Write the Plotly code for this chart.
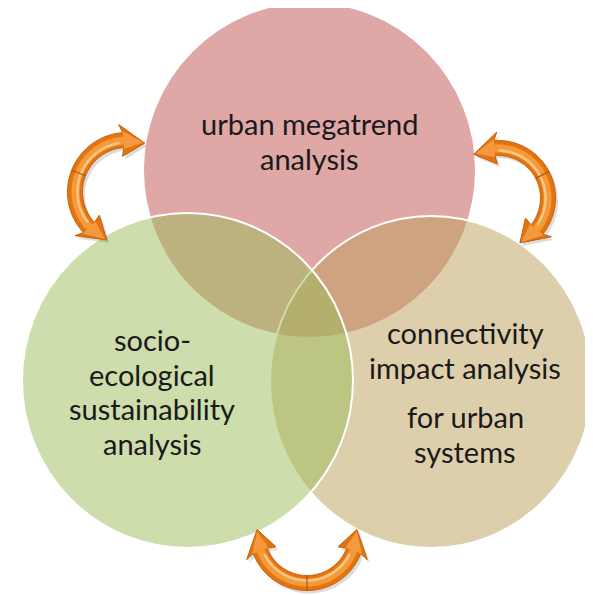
import numpy as np
import plotly.graph_objects as go

# ---- content -------------------------------------------------------------
circle_names = ["urban megatrend", "connectivity impact", "socio-ecological"]
top_label = ["urban megatrend", "analysis"]
right_label = ["connectivity", "impact analysis", "for urban", "systems"]
left_label = ["socio-", "ecological", "sustainability", "analysis"]

# ---- geometry / style constants (pixel space of the page) ----------------
W, H = 593, 595
OFF = 8  # default page body margin
# (cx, cy, rx, ry, rgb) ; drawing order: top, right, left
circles = [
    (309.5, 170.0, 166.5, 168.0, (192, 80, 77)),
    (431.0, 382.0, 161.0, 166.0, (190, 160, 90)),
    (187.5, 380.5, 165.5, 167.5, (155, 187, 89)),
]
# arrows: centre, radius, tip angle start, tip angle end (degrees, y down)
arrows = [
    (127.0, 192.0, 52.0, -72.0, -245.0),
    (498.0, 198.0, 50.0, -117.0, 62.0),
    (307.0, 533.0, 50.0, 182.0, -2.0),
]
BAND = 15.0
HEAD_HW = 16.0
HEAD_LEN = 20.0

fig = go.Figure()
fig.add_trace(go.Scatter(x=[OFF, W], y=[OFF, H], mode="markers",
                         marker=dict(opacity=0), hoverinfo="skip", showlegend=False))

shapes = []
for cx, cy, rx, ry, rgb in circles:
    shapes.append(dict(
        type="circle", xref="x", yref="y",
        x0=cx - rx, x1=cx + rx, y0=cy - ry, y1=cy + ry,
        fillcolor="rgba(%d,%d,%d,0.5)" % rgb,
        line=dict(color="white", width=2), layer="above"))


def pt(cx, cy, rr, a):
    t = np.radians(a)
    return cx + rr * np.cos(t), cy + rr * np.sin(t)


def to_path(pts, close=True):
    s = "M " + " L ".join("%.2f,%.2f" % p for p in pts)
    return s + (" Z" if close else "")


def arrow_shapes(cx, cy, r, t0, t1, dx=0.0, dy=0.0):
    d = np.sign(t1 - t0)
    hla = np.degrees(HEAD_LEN / r)
    a0, a1 = t0 + d * hla, t1 - d * hla
    ts = np.linspace(a0, a1, 80)
    c = (cx + dx, cy + dy)
    outer = [pt(*c, r + BAND / 2, t) for t in ts]
    inner = [pt(*c, r - BAND / 2, t) for t in ts[::-1]]
    pts = ([pt(*c, r, t0 - d * 2), pt(*c, r + HEAD_HW, a0 + d * 3)] + outer +
           [pt(*c, r + HEAD_HW, a1 - d * 3), pt(*c, r, t1 + d * 2),
            pt(*c, r - HEAD_HW, a1 - d * 3)] + inner +
           [pt(*c, r - HEAD_HW, a0 + d * 3)])
    return pts, ts


for cx, cy, r, t0, t1 in arrows:
    sp, _ = arrow_shapes(cx, cy, r, t0, t1, 2.5, 3.0)
    shapes.append(dict(type="path", xref="x", yref="y", path=to_path(sp),
                       fillcolor="rgba(60,60,60,0.18)", line=dict(width=0),
                       layer="above"))
    ap, ts = arrow_shapes(cx, cy, r, t0, t1)
    shapes.append(dict(type="path", xref="x", yref="y", path=to_path(ap),
                       fillcolor="#E3740F", line=dict(color="#C4600A", width=1),
                       layer="above"))
    mid = [pt(cx, cy, r - 0.5, t) for t in ts]
    shapes.append(dict(type="path", xref="x", yref="y", path=to_path(mid, False),
                       fillcolor="rgba(0,0,0,0)",
                       line=dict(color="#F59A3A", width=8), layer="above"))
    hi = [pt(cx, cy, r - 2.5, t) for t in ts[3:-3]]
    shapes.append(dict(type="path", xref="x", yref="y", path=to_path(hi, False),
                       fillcolor="rgba(0,0,0,0)",
                       line=dict(color="#FBC585", width=2.5), layer="above"))
    d = np.sign(t1 - t0)
    hla = np.degrees(HEAD_LEN / r)
    for tip, base in ((t0, t0 + d * hla), (t1, t1 - d * hla)):
        hp = [pt(cx, cy, r, tip), pt(cx, cy, r + HEAD_HW * 0.55, base),
              pt(cx, cy, r - HEAD_HW * 0.55, base)]
        shapes.append(dict(type="path", xref="x", yref="y", path=to_path(hp),
                           fillcolor="rgba(248,160,70,0.85)", line=dict(width=0),
                           layer="above"))
    am = (t0 + t1) / 2.0
    seam = [pt(cx, cy, r - BAND / 2, am), pt(cx, cy, r + BAND / 2, am)]
    shapes.append(dict(type="path", xref="x", yref="y", path=to_path(seam, False),
                       line=dict(color="#A9560C", width=1.2), layer="above"))

FS = 29
FONT = dict(family="Lato, 'Open Sans', sans-serif", size=FS, color="#1a1a1a")
ann = []


def add_lines(lines, x, baselines):
    for txt, b in zip(lines, baselines):
        ann.append(dict(x=x, y=b - 0.35 * FS, xref="x", yref="y", text=txt,
                        showarrow=False, xanchor="center", yanchor="middle",
                        font=FONT, align="center"))


add_lines(top_label, 309.5, [133.5, 168.5])
add_lines(left_label, 152, [350, 384.5, 419, 453.5])
add_lines(right_label, 465, [343, 378, 427, 462])

fig.update_layout(
    width=W - OFF, height=H - OFF, margin=dict(l=0, r=0, t=0, b=0, pad=0),
    paper_bgcolor="white", plot_bgcolor="white",
    xaxis=dict(range=[OFF, W], visible=False, fixedrange=True),
    yaxis=dict(range=[H, OFF], visible=False, fixedrange=True),
    shapes=shapes, annotations=ann, showlegend=False,
)
fig.write_html("out.html")
